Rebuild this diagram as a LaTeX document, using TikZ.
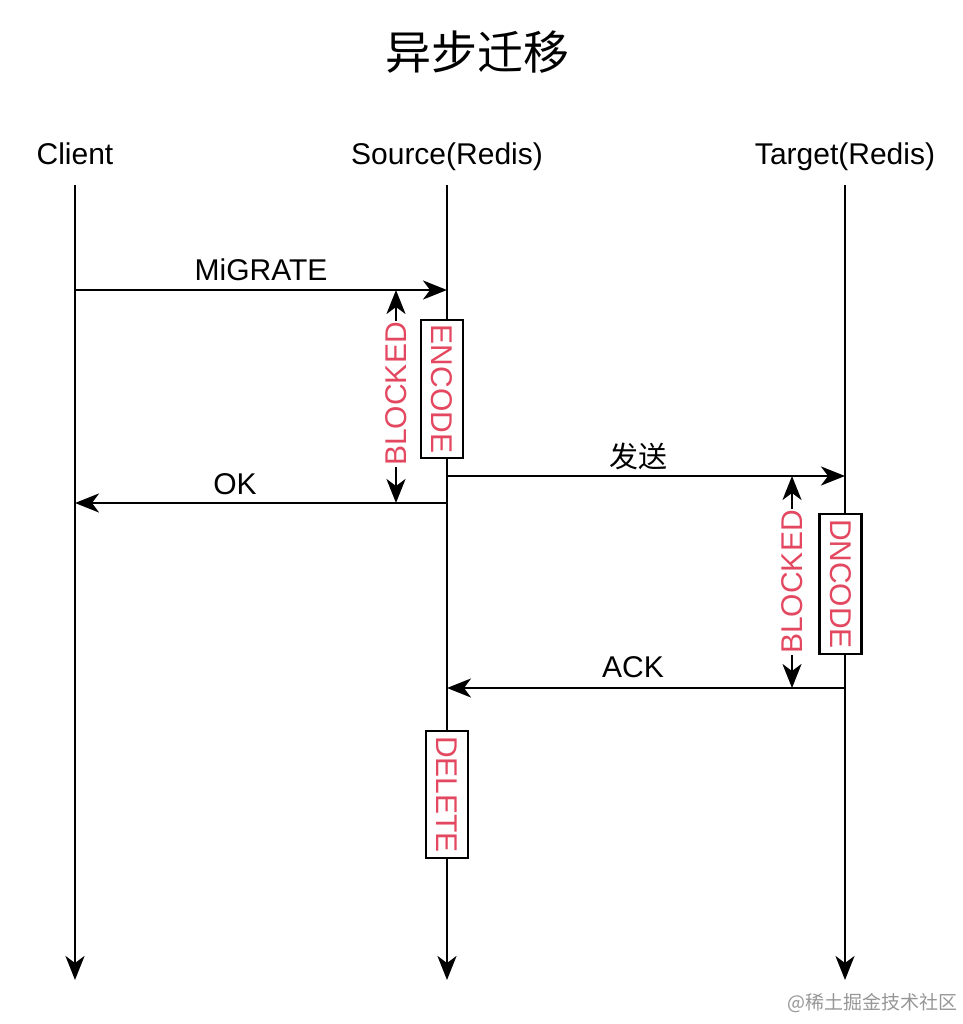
\documentclass[tikz,border=0pt]{standalone}
\usepackage{fontspec}
\setmainfont{Liberation Sans}
\newfontfamily\cjk{Noto Sans CJK SC}
\usetikzlibrary{arrows.meta}
\definecolor{hl}{RGB}{228,72,96}
\definecolor{wm}{RGB}{150,150,150}
\begin{document}
\begin{tikzpicture}[x=1pt,y=-1pt,
  tip/.tip={Stealth[length=24,width=19,inset=7]},
  life/.style={line width=2.3,-tip},
  msg/.style={line width=2.3,-tip},
  dbl/.style={line width=2.3,tip-tip},
  lbl/.style={font=\fontsize{30}{36}\selectfont, inner sep=0},
  redlbl/.style={font=\fontsize{30}{36}\selectfont, text=hl, rotate=90, fill=white, inner sep=1},
  opbox/.style={draw, line width=2.3, fill=white, rotate=-90, inner sep=0, minimum height=42,
    text=hl, font=\fontsize{30}{36}\selectfont}]
\useasboundingbox (0,0) rectangle (962,1024);
% title
\node[font=\cjk\fontsize{46}{50}\selectfont, inner sep=0] (title) at (477,52) {异步迁移};
% actors
\node[lbl, anchor=base] (client) at (75,165) {Client};
\node[lbl, anchor=base] (source) at (447,165) {Source(Redis)};
\node[lbl, anchor=base] (target) at (845,165) {Target(Redis)};
% lifelines
\coordinate (c0) at (75,185); \coordinate (c1) at (75,980);
\coordinate (s0) at (447,185); \coordinate (s1) at (447,980);
\coordinate (t0) at (845,185); \coordinate (t1) at (845,980);
\draw[life] (c0) -- (c1);
\draw[life] (s0) -- (s1);
\draw[life] (t0) -- (t1);
% messages
\coordinate (cm) at (75,290); \coordinate (sm) at (447,290);
\draw[msg] (cm) -- (sm);
\node[lbl, anchor=base] (lmig) at (261,280) {MiGRATE};
\coordinate (so) at (447,503); \coordinate (co) at (75,503);
\draw[msg] (so) -- (co);
\node[lbl, anchor=base] (lok) at (235,494) {OK};
\coordinate (ss) at (447,476); \coordinate (ts) at (845,476);
\draw[msg] (ss) -- (ts);
\node[font=\cjk\fontsize{29}{34}\selectfont, inner sep=0] (lsend) at (638,456) {发送};
\coordinate (ta) at (845,688); \coordinate (sa) at (447,688);
\draw[msg] (ta) -- (sa);
\node[lbl, anchor=base] (lack) at (633,677) {ACK};
% blocked intervals
\coordinate (b1a) at (396,290); \coordinate (b1b) at (396,503);
\draw[dbl] (b1a) -- (b1b);
\node[redlbl] (blk1) at (396,394) {BLOCKED};
\coordinate (b2a) at (792,476); \coordinate (b2b) at (792,688);
\draw[dbl] (b2a) -- (b2b);
\node[redlbl] (blk2) at (792,582) {BLOCKED};
% operation boxes
\node[opbox, minimum width=138] (enc) at (442,389) {ENCODE};
\node[opbox, minimum width=140] (dnc) at (840.5,584) {DNCODE};
\node[opbox, minimum width=127] (del) at (447,794.5) {DELETE};
% watermark
\node[font=\cjk\fontsize{19}{22}\selectfont, text=wm, anchor=east, inner sep=0] (wmk) at (958,1003) {@稀土掘金技术社区};
\end{tikzpicture}
\end{document}
